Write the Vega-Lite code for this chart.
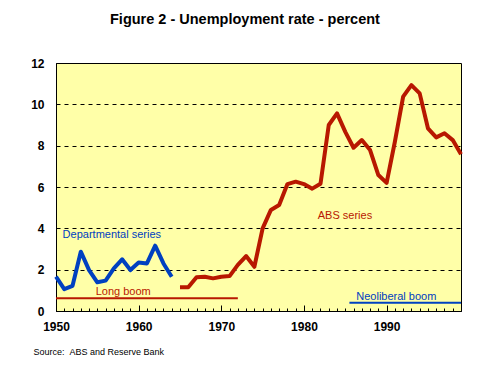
{
  "$schema": "https://vega.github.io/schema/vega-lite/v6.json",
  "width": 405,
  "height": 248,
  "autosize": {"type": "none"},
  "padding": {"left": 56, "top": 63, "right": 33, "bottom": 60},
  "background": "white",
  "title": {
    "text": "Figure 2 - Unemployment rate - percent",
    "font": "Liberation Sans",
    "fontSize": 14.5,
    "fontWeight": "bold",
    "color": "black",
    "anchor": "start",
    "frame": "group",
    "dx": 54,
    "offset": 30
  },
  "config": {
    "view": {"fill": "#FFFFA8", "stroke": "black", "strokeWidth": 1},
    "font": "Liberation Sans"
  },
  "datasets": {
    "series": [
      {"year": 1950, "rate": 1.66, "series": "Departmental"},
      {"year": 1951, "rate": 1.06, "series": "Departmental"},
      {"year": 1952, "rate": 1.22, "series": "Departmental"},
      {"year": 1953, "rate": 2.87, "series": "Departmental"},
      {"year": 1954, "rate": 1.98, "series": "Departmental"},
      {"year": 1955, "rate": 1.39, "series": "Departmental"},
      {"year": 1956, "rate": 1.47, "series": "Departmental"},
      {"year": 1957, "rate": 2.06, "series": "Departmental"},
      {"year": 1958, "rate": 2.5, "series": "Departmental"},
      {"year": 1959, "rate": 1.98, "series": "Departmental"},
      {"year": 1960, "rate": 2.35, "series": "Departmental"},
      {"year": 1961, "rate": 2.3, "series": "Departmental"},
      {"year": 1962, "rate": 3.16, "series": "Departmental"},
      {"year": 1963, "rate": 2.3, "series": "Departmental"},
      {"year": 1964, "rate": 1.66, "series": "Departmental"},
      {"year": 1965, "rate": 1.15, "series": "ABS"},
      {"year": 1966, "rate": 1.15, "series": "ABS"},
      {"year": 1967, "rate": 1.63, "series": "ABS"},
      {"year": 1968, "rate": 1.66, "series": "ABS"},
      {"year": 1969, "rate": 1.58, "series": "ABS"},
      {"year": 1970, "rate": 1.66, "series": "ABS"},
      {"year": 1971, "rate": 1.69, "series": "ABS"},
      {"year": 1972, "rate": 2.23, "series": "ABS"},
      {"year": 1973, "rate": 2.66, "series": "ABS"},
      {"year": 1974, "rate": 2.14, "series": "ABS"},
      {"year": 1975, "rate": 4.0, "series": "ABS"},
      {"year": 1976, "rate": 4.89, "series": "ABS"},
      {"year": 1977, "rate": 5.13, "series": "ABS"},
      {"year": 1978, "rate": 6.14, "series": "ABS"},
      {"year": 1979, "rate": 6.26, "series": "ABS"},
      {"year": 1980, "rate": 6.14, "series": "ABS"},
      {"year": 1981, "rate": 5.92, "series": "ABS"},
      {"year": 1982, "rate": 6.16, "series": "ABS"},
      {"year": 1983, "rate": 9.0, "series": "ABS"},
      {"year": 1984, "rate": 9.56, "series": "ABS"},
      {"year": 1985, "rate": 8.67, "series": "ABS"},
      {"year": 1986, "rate": 7.9, "series": "ABS"},
      {"year": 1987, "rate": 8.27, "series": "ABS"},
      {"year": 1988, "rate": 7.79, "series": "ABS"},
      {"year": 1989, "rate": 6.58, "series": "ABS"},
      {"year": 1990, "rate": 6.2, "series": "ABS"},
      {"year": 1991, "rate": 8.19, "series": "ABS"},
      {"year": 1992, "rate": 10.37, "series": "ABS"},
      {"year": 1993, "rate": 10.93, "series": "ABS"},
      {"year": 1994, "rate": 10.53, "series": "ABS"},
      {"year": 1995, "rate": 8.84, "series": "ABS"},
      {"year": 1996, "rate": 8.4, "series": "ABS"},
      {"year": 1997, "rate": 8.6, "series": "ABS"},
      {"year": 1998, "rate": 8.27, "series": "ABS"},
      {"year": 1999, "rate": 7.58, "series": "ABS"}
    ],
    "booms": [
      {"boom": "Long boom", "start": 1950, "end": 1972, "level": 0.62, "series": "ABS"},
      {"boom": "Neoliberal boom", "start": 1985.5, "end": 1999, "level": 0.4, "series": "Departmental"}
    ],
    "labels": [
      {"text": "Departmental series", "year": 1950.8, "rate": 3.7, "series": "Departmental"},
      {"text": "Long boom", "year": 1954.8, "rate": 0.93, "series": "ABS"},
      {"text": "ABS series", "year": 1981.67, "rate": 4.58, "series": "ABS"},
      {"text": "Neoliberal boom", "year": 1986.33, "rate": 0.68, "series": "Departmental"}
    ]
  },
  "resolve": {"axis": {"x": "independent"}},
  "layer": [
    {
      "data": {"name": "series"},
      "mark": {"type": "line", "strokeWidth": 4, "strokeJoin": "round"},
      "encoding": {
        "x": {
          "field": "year", "type": "quantitative",
          "scale": {"domain": [1950, 1999], "nice": false, "zero": false},
          "axis": {
            "orient": "bottom",
            "values": [1950, 1960, 1970, 1980, 1990],
            "ticks": false,
            "domainColor": "black",
            "labelColor": "black",
            "labelFontSize": 12,
            "labelFontWeight": "bold",
            "labelPadding": 10,
            "labelFlush": false,
            "format": "d",
            "grid": false,
            "title": "Source:\u00a0\u00a0ABS and Reserve Bank",
            "titleFontSize": 9,
            "titleFontWeight": "normal",
            "titleColor": "black",
            "titleAlign": "left",
            "titleBaseline": "middle",
            "titleX": -23,
            "titleY": 40
          }
        },
        "y": {
          "field": "rate", "type": "quantitative",
          "scale": {"domain": [0, 12], "nice": false},
          "axis": {
            "values": [0, 2, 4, 6, 8, 10, 12],
            "grid": true,
            "gridColor": "black",
            "gridOpacity": 1,
            "gridDash": [4, 4],
            "ticks": false,
            "labelPadding": 12,
            "labelFontSize": 12,
            "labelFontWeight": "bold",
            "labelColor": "black",
            "domainColor": "black",
            "title": null
          }
        },
        "detail": {"field": "series"},
        "color": {
          "field": "series", "type": "nominal",
          "scale": {"domain": ["Departmental", "ABS"], "range": ["#0040C0", "#B81800"]},
          "legend": null
        }
      }
    },
    {
      "data": {"name": "booms"},
      "mark": {"type": "rule", "strokeWidth": 2},
      "encoding": {
        "x": {
          "field": "start", "type": "quantitative",
          "axis": {
            "orient": "top",
            "offset": -248,
            "values": [1950,1951,1952,1953,1954,1955,1956,1957,1958,1959,1960,1961,1962,1963,1964,1965,1966,1967,1968,1969,1970,1971,1972,1973,1974,1975,1976,1977,1978,1979,1980,1981,1982,1983,1984,1985,1986,1987,1988,1989,1990,1991,1992,1993,1994,1995,1996,1997,1998,1999],
            "tickSize": {"condition": {"test": "datum.value % 10 === 0", "value": 6}, "value": 3},
            "tickWidth": 1,
            "tickColor": "black",
            "tickOpacity": 1,
            "ticks": true,
            "labels": false,
            "domain": false,
            "grid": false,
            "title": null
          }
        },
        "x2": {"field": "end"},
        "y": {"field": "level", "type": "quantitative"},
        "color": {"field": "series", "type": "nominal", "legend": null}
      }
    },
    {
      "data": {"name": "labels"},
      "mark": {"type": "text", "align": "left", "baseline": "middle", "fontSize": 11},
      "encoding": {
        "x": {"field": "year", "type": "quantitative", "axis": null},
        "y": {"field": "rate", "type": "quantitative"},
        "text": {"field": "text"},
        "color": {"field": "series", "type": "nominal", "legend": null}
      }
    }
  ]
}
